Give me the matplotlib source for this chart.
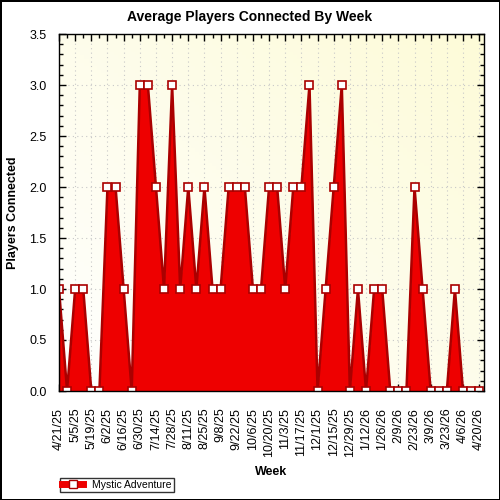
import matplotlib
matplotlib.use("Agg")
import matplotlib.pyplot as plt
from matplotlib.ticker import MultipleLocator, FixedLocator, FormatStrFormatter
from matplotlib.colors import LinearSegmentedColormap
from matplotlib.lines import Line2D
import numpy as np
import pandas as pd

plt.rcParams['font.family'] = ['Liberation Sans', 'DejaVu Sans']

# недели (понедельники) с 4/21/25 по 4/20/26
weeks = pd.date_range("2025-04-21", "2026-04-20", freq="7D")
week_labels = [f"{d.month}/{d.day}/{d.strftime('%y')}" for d in weeks]

players = [1, 0, 1, 1, 0, 0, 2, 2, 1, 0,
           3, 3, 2, 1, 3, 1, 2, 1, 2, 1,
           1, 2, 2, 2, 1, 1, 2, 2, 1, 2,
           2, 3, 0, 1, 2, 3, 0, 1, 0, 1,
           1, 0, 0, 0, 2, 1, 0, 0, 0, 1,
           0, 0, 0]
series_name = "Mystic Adventure"

x = np.arange(len(weeks))
y = np.array(players, dtype=float)

fig = plt.figure(figsize=(5, 5), dpi=100)
fig.patch.set_facecolor('white')
fig.patch.set_edgecolor('black')
fig.patch.set_linewidth(2)

ax = fig.add_axes([0.118, 0.218, 0.85, 0.714])

# фон с градиентом
grad = np.add.outer(np.linspace(0, 1, 100), np.linspace(0, 1, 100)) / 2
cmap = LinearSegmentedColormap.from_list("bg", ["#ffffff", "#fdfbd8"])
ax.imshow(grad, cmap=cmap, extent=[0, 52.6, 0, 3.5], origin='lower',
          aspect='auto', zorder=0)

ax.fill_between(x, y, 0, color='#ee0000', zorder=2, linewidth=0)
ax.plot(x, y, color='#aa0000', linewidth=1.8, zorder=3)
ax.plot(x, y, linestyle='none', marker='s', markersize=5.5,
        markerfacecolor='white', markeredgecolor='#aa0000',
        markeredgewidth=1.2, zorder=4)

ax.set_xlim(0, 52.6)
ax.set_ylim(0, 3.5)

ax.xaxis.set_major_locator(FixedLocator(x[::2]))
ax.xaxis.set_minor_locator(FixedLocator(x))
ax.set_xticklabels(week_labels[::2], rotation=90, fontsize=9)
ax.yaxis.set_major_locator(MultipleLocator(0.5))
ax.yaxis.set_minor_locator(MultipleLocator(0.1))
ax.yaxis.set_major_formatter(FormatStrFormatter('%.1f'))
ax.tick_params(axis='y', labelsize=9, pad=9)
ax.tick_params(axis='x', pad=12)

ax.tick_params(which='both', direction='in', top=True, right=True, color='black')
ax.tick_params(which='major', length=5, width=1)
ax.tick_params(which='minor', length=3, width=1)

ax.grid(True, which='major', color='#c8c8c8', linestyle=(0, (1, 3)), linewidth=0.8)
for gl in ax.get_xgridlines() + ax.get_ygridlines():
    gl.set_zorder(1)

for s in ax.spines.values():
    s.set_linewidth(1)
    s.set_zorder(5)

fig.text(0.5, 0.966, "Average Players Connected By Week", fontsize=10,
         fontweight='bold', ha='center', va='center')
ax.set_xlabel("Week", fontsize=9, fontweight='bold', labelpad=7)
ax.set_ylabel("Players Connected", fontsize=9, fontweight='bold', labelpad=7)

handle = Line2D([], [], color='#ee0000', linewidth=5, marker='s', markersize=5.5,
                markerfacecolor='white', markeredgecolor='#aa0000')
leg = fig.legend([handle], [series_name], loc='lower left',
                 bbox_to_anchor=(0.11, 0.006), fontsize=7.5, frameon=True,
                 fancybox=False, edgecolor='black', handlelength=2.0,
                 borderpad=0.2, handletextpad=0.9)
leg.get_frame().set_linewidth(1)

fig.savefig("out.png", dpi=100)
